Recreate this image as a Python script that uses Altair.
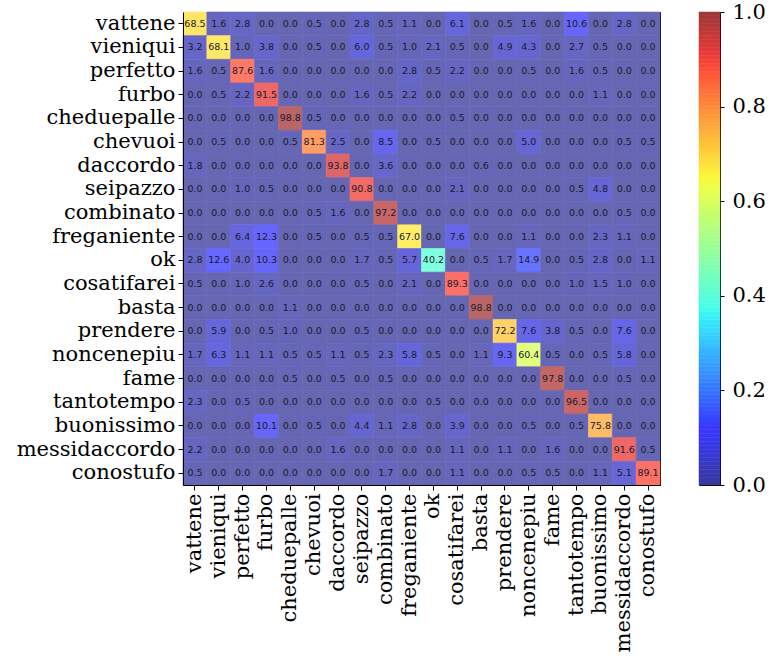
import altair as alt
import numpy as np
import pandas as pd

labels = ["vattene", "vieniqui", "perfetto", "furbo", "cheduepalle", "chevuoi",
          "daccordo", "seipazzo", "combinato", "freganiente", "ok", "cosatifarei",
          "basta", "prendere", "noncenepiu", "fame", "tantotempo", "buonissimo",
          "messidaccordo", "conostufo"]

r_vattene = [68.5, 1.6, 2.8, 0.0, 0.0, 0.5, 0.0, 2.8, 0.5, 1.1, 0.0, 6.1, 0.0, 0.5, 1.6, 0.0, 10.6, 0.0, 2.8, 0.0]
r_vieniqui = [3.2, 68.1, 1.0, 3.8, 0.0, 0.5, 0.0, 6.0, 0.5, 1.0, 2.1, 0.5, 0.0, 4.9, 4.3, 0.0, 2.7, 0.5, 0.0, 0.0]
r_perfetto = [1.6, 0.5, 87.6, 1.6, 0.0, 0.0, 0.0, 0.0, 0.0, 2.8, 0.5, 2.2, 0.0, 0.0, 0.5, 0.0, 1.6, 0.5, 0.0, 0.0]
r_furbo = [0.0, 0.5, 2.2, 91.5, 0.0, 0.0, 0.0, 1.6, 0.5, 2.2, 0.0, 0.0, 0.0, 0.0, 0.0, 0.0, 0.0, 1.1, 0.0, 0.0]
r_cheduepalle = [0.0, 0.0, 0.0, 0.0, 98.8, 0.5, 0.0, 0.0, 0.0, 0.0, 0.0, 0.5, 0.0, 0.0, 0.0, 0.0, 0.0, 0.0, 0.0, 0.0]
r_chevuoi = [0.0, 0.5, 0.0, 0.0, 0.5, 81.3, 2.5, 0.0, 8.5, 0.0, 0.5, 0.0, 0.0, 0.0, 5.0, 0.0, 0.0, 0.0, 0.5, 0.5]
r_daccordo = [1.8, 0.0, 0.0, 0.0, 0.0, 0.0, 93.8, 0.0, 3.6, 0.0, 0.0, 0.0, 0.6, 0.0, 0.0, 0.0, 0.0, 0.0, 0.0, 0.0]
r_seipazzo = [0.0, 0.0, 1.0, 0.5, 0.0, 0.0, 0.0, 90.8, 0.0, 0.0, 0.0, 2.1, 0.0, 0.0, 0.0, 0.0, 0.5, 4.8, 0.0, 0.0]
r_combinato = [0.0, 0.0, 0.0, 0.0, 0.0, 0.5, 1.6, 0.0, 97.2, 0.0, 0.0, 0.0, 0.0, 0.0, 0.0, 0.0, 0.0, 0.0, 0.5, 0.0]
r_freganiente = [0.0, 0.0, 6.4, 12.3, 0.0, 0.5, 0.0, 0.5, 0.5, 67.0, 0.0, 7.6, 0.0, 0.0, 1.1, 0.0, 0.0, 2.3, 1.1, 0.0]
r_ok = [2.8, 12.6, 4.0, 10.3, 0.0, 0.0, 0.0, 1.7, 0.5, 5.7, 40.2, 0.0, 0.5, 1.7, 14.9, 0.0, 0.5, 2.8, 0.0, 1.1]
r_cosatifarei = [0.5, 0.0, 1.0, 2.6, 0.0, 0.0, 0.0, 0.5, 0.0, 2.1, 0.0, 89.3, 0.0, 0.0, 0.0, 0.0, 1.0, 1.5, 1.0, 0.0]
r_basta = [0.0, 0.0, 0.0, 0.0, 1.1, 0.0, 0.0, 0.0, 0.0, 0.0, 0.0, 0.0, 98.8, 0.0, 0.0, 0.0, 0.0, 0.0, 0.0, 0.0]
r_prendere = [0.0, 5.9, 0.0, 0.5, 1.0, 0.0, 0.0, 0.5, 0.0, 0.0, 0.0, 0.0, 0.0, 72.2, 7.6, 3.8, 0.5, 0.0, 7.6, 0.0]
r_noncenepiu = [1.7, 6.3, 1.1, 1.1, 0.5, 0.5, 1.1, 0.5, 2.3, 5.8, 0.5, 0.0, 1.1, 9.3, 60.4, 0.5, 0.0, 0.5, 5.8, 0.0]
r_fame = [0.0, 0.0, 0.0, 0.0, 0.5, 0.0, 0.5, 0.0, 0.5, 0.0, 0.0, 0.0, 0.0, 0.0, 0.0, 97.8, 0.0, 0.0, 0.5, 0.0]
r_tantotempo = [2.3, 0.0, 0.5, 0.0, 0.0, 0.0, 0.0, 0.0, 0.0, 0.0, 0.5, 0.0, 0.0, 0.0, 0.0, 0.0, 96.5, 0.0, 0.0, 0.0]
r_buonissimo = [0.0, 0.0, 0.0, 10.1, 0.0, 0.5, 0.0, 4.4, 1.1, 2.8, 0.0, 3.9, 0.0, 0.0, 0.5, 0.0, 0.5, 75.8, 0.0, 0.0]
r_messidaccordo = [2.2, 0.0, 0.0, 0.0, 0.0, 0.0, 1.6, 0.0, 0.0, 0.0, 0.0, 1.1, 0.0, 1.1, 0.0, 1.6, 0.0, 0.0, 91.6, 0.5]
r_conostufo = [0.5, 0.0, 0.0, 0.0, 0.0, 0.0, 0.0, 0.0, 1.7, 0.0, 0.0, 1.1, 0.0, 0.0, 0.5, 0.5, 0.0, 1.1, 5.1, 89.1]

rows = [r_vattene, r_vieniqui, r_perfetto, r_furbo, r_cheduepalle, r_chevuoi,
        r_daccordo, r_seipazzo, r_combinato, r_freganiente, r_ok, r_cosatifarei,
        r_basta, r_prendere, r_noncenepiu, r_fame, r_tantotempo, r_buonissimo,
        r_messidaccordo, r_conostufo]

colorbar_ticks = [0.0, 0.2, 0.4, 0.6, 0.8, 1.0]

records = []
for i, t in enumerate(labels):
    for j, p in enumerate(labels):
        v = rows[i][j]
        records.append({"true": t, "pred": p, "pct": v, "frac": v / 100.0,
                        "txt": f"{v:.1f}"})
df = pd.DataFrame(records)

# jet colormap blended over white
stops = np.linspace(0, 1, 41)
def jet_hex(x, alpha):
    r = np.interp(x, [0, 0.35, 0.66, 0.89, 1], [0, 0, 1, 1, 0.5])
    g = np.interp(x, [0, 0.125, 0.375, 0.64, 0.91, 1], [0, 0, 1, 1, 0, 0])
    b = np.interp(x, [0, 0.11, 0.34, 0.65, 1], [0.5, 1, 1, 0, 0])
    c = [int(round(255 * (v * alpha + (1 - alpha)))) for v in (r, g, b)]
    return "#%02x%02x%02x" % tuple(c)
cell_colors = [jet_hex(s, 0.6) for s in stops]
bar_colors = [jet_hex(s, 0.78) for s in stops]

FONT = "DejaVu Serif"
cell_scale = alt.Scale(domain=list(stops), range=cell_colors, clamp=True)
bar_scale = alt.Scale(domain=list(stops), range=bar_colors, clamp=True)

base = alt.Chart(df).encode(
    x=alt.X("pred:N", sort=labels, title=None,
            axis=alt.Axis(labelAngle=-90, labelFont=FONT, labelFontSize=21,
                          labelColor="black", tickColor="black", domainColor="black",
                          tickSize=5, labelPadding=3, labelLimit=300)),
    y=alt.Y("true:N", sort=labels, title=None,
            axis=alt.Axis(labelFont=FONT, labelFontSize=21, labelColor="black",
                          tickColor="black", domainColor="black", tickSize=5,
                          labelPadding=3, labelLimit=300)),
)

rect = base.mark_rect(strokeWidth=0.6).encode(
    color=alt.Color("frac:Q", scale=cell_scale, legend=None),
    stroke=alt.Stroke("frac:Q", scale=cell_scale, legend=None),
)

text = base.mark_text(font="DejaVu Sans", fontSize=9.5, color="#1a1a2a").encode(
    text="txt:N"
)

matrix = alt.layer(rect, text).properties(width=477, height=473)

# colorbar
edges = np.linspace(0, 1, 121)
cb = pd.DataFrame({"lo": edges[:-1], "hi": edges[1:],
                   "level": (edges[:-1] + edges[1:]) / 2})
colorbar = alt.Chart(cb).mark_rect(strokeWidth=0.5).encode(
    x=alt.value(0), x2=alt.value(21),
    y=alt.Y("lo:Q", scale=alt.Scale(domain=[0, 1], nice=False, zero=False),
            title=None,
            axis=alt.Axis(orient="right", values=colorbar_ticks, format=".1f",
                          labelFont=FONT, labelFontSize=21, labelColor="black",
                          tickColor="black", tickSize=4, labelPadding=8,
                          domain=False, grid=False, labelBaseline="middle",
                          labelFlush=False)),
    y2="hi:Q",
    color=alt.Color("level:Q", scale=bar_scale, legend=None),
    stroke=alt.Stroke("level:Q", scale=bar_scale, legend=None),
).properties(width=21, height=473)

chart = alt.hconcat(matrix, colorbar, spacing=37).resolve_scale(
    color="independent", stroke="independent"
).properties(
    padding={"left": 15, "top": 0, "right": 0, "bottom": 5},
).configure_view(stroke="black", strokeWidth=1).configure_axis(
    grid=False, domainWidth=1, tickWidth=1
).configure_scale(bandPaddingInner=0, bandPaddingOuter=0)

chart.save("out.html", embed_options={"renderer": "svg", "actions": False})
